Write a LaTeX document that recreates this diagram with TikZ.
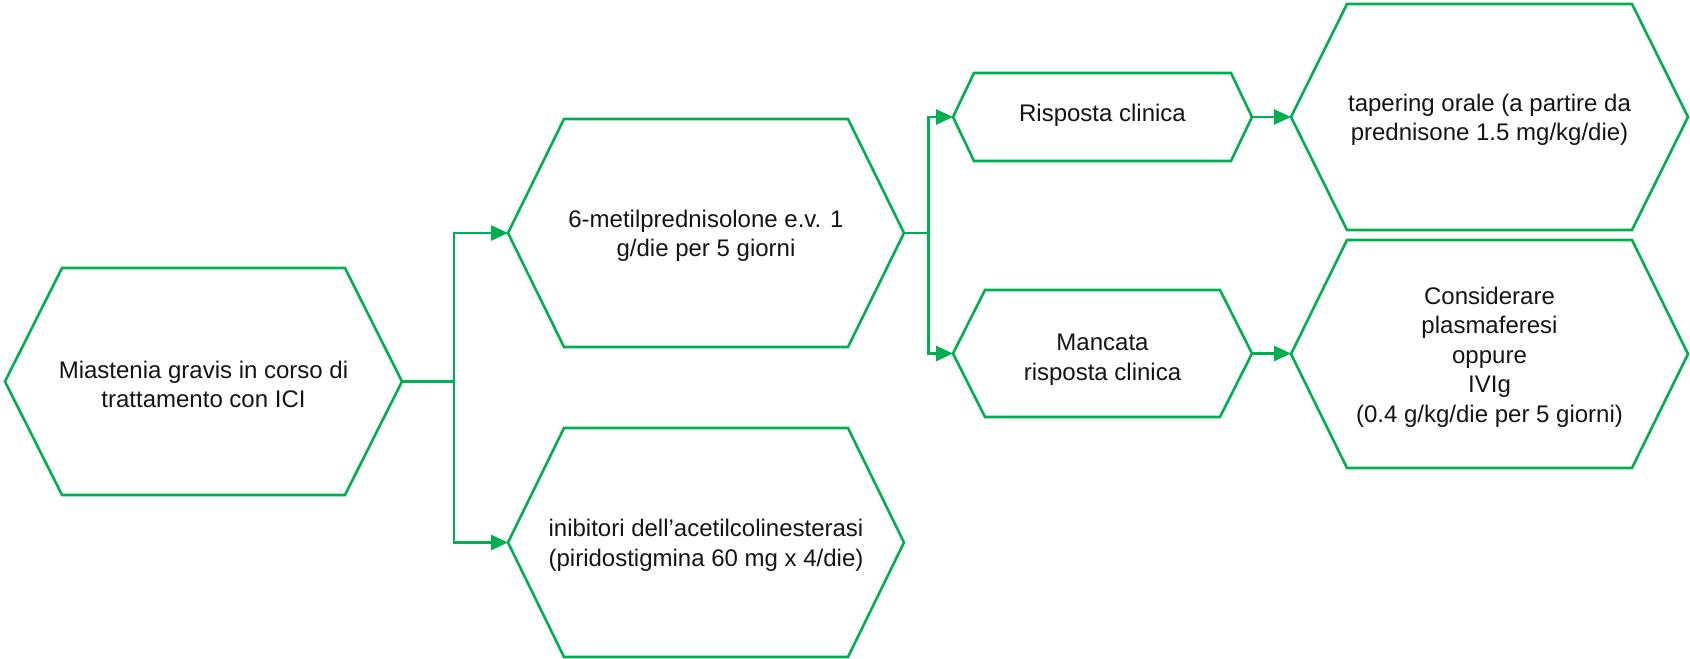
\documentclass[tikz,border=0pt]{standalone}
\usepackage{fontspec}
\setmainfont{Liberation Sans}
\usetikzlibrary{arrows.meta}

\definecolor{flowgreen}{HTML}{00B050}
\definecolor{txtgray}{HTML}{141414}

\tikzset{
  hexline/.style={draw=flowgreen, line width=2.6bp, line join=miter},
  txt/.style={align=center, text=txtgray, inner sep=0pt,
    font=\fontsize{24bp}{29.5bp}\selectfont},
  link/.style={draw=flowgreen, line width=2.6bp},
  arrowlink/.style={link, -{Triangle[length=17bp, width=15bp]}},
}

% \hexbox[text shift]{name}{cx}{cy}{half width}{half height}{bevel}{text}
% draws a horizontal hexagon and names its left/right tips name-l / name-r
\newcommand\hexbox[8][3]{%
  \draw[hexline] (#3-#5,#4) -- (#3-#5+#7,#4-#6) -- (#3+#5-#7,#4-#6)
    -- (#3+#5,#4) -- (#3+#5-#7,#4+#6) -- (#3-#5+#7,#4+#6) -- cycle;
  \coordinate (#2-l) at (#3-#5,#4);
  \coordinate (#2-r) at (#3+#5,#4);
  \node[txt] (#2) at (#3,#4+#1) {#8};
}

\begin{document}
\begin{tikzpicture}[x=1bp, y=-1bp]
  \useasboundingbox (0,0) rectangle (1690,659);

  \hexbox{mg}{203.5}{381.5}{198.5}{113.5}{57}{Miastenia gravis in corso di\\trattamento con ICI}
  \hexbox{mp}{706}{233}{198}{114}{56}{6-metilprednisolone e.v. 1\\g/die per 5 giorni}
  \hexbox{ac}{706}{542.5}{198}{114.5}{56}{inibitori dell’acetilcolinesterasi\\(piridostigmina 60 mg x 4/die)}
  \hexbox[-1.5]{ok}{1102.5}{117}{149.5}{44}{21}{Risposta clinica}
  \hexbox[6]{no}{1102.5}{353.5}{149.5}{63.5}{32}{Mancata\\risposta clinica}
  \hexbox{tp}{1489.5}{117}{198.5}{113}{56}{tapering orale (a partire da\\prednisone 1.5 mg/kg/die)}
  \hexbox{pl}{1489.5}{354}{198.5}{114}{56}{Considerare\\plasmaferesi\\oppure\\IVIg\\(0.4 g/kg/die per 5 giorni)}

  % branching points
  \coordinate (j1) at (454,381.5);
  \coordinate (j2) at (928.5,233);

  \draw[link] (mg-r) -- (j1);
  \draw[arrowlink] (j1) |- (mp-l);
  \draw[arrowlink] (j1) |- (ac-l);

  \draw[link] (mp-r) -- (j2);
  \draw[arrowlink] (j2) |- (ok-l);
  \draw[arrowlink] (j2) |- (no-l);

  \draw[arrowlink] (ok-r) -- (tp-l);
  \draw[arrowlink] (no-r) -- (no-r -| pl-l);
\end{tikzpicture}
\end{document}
